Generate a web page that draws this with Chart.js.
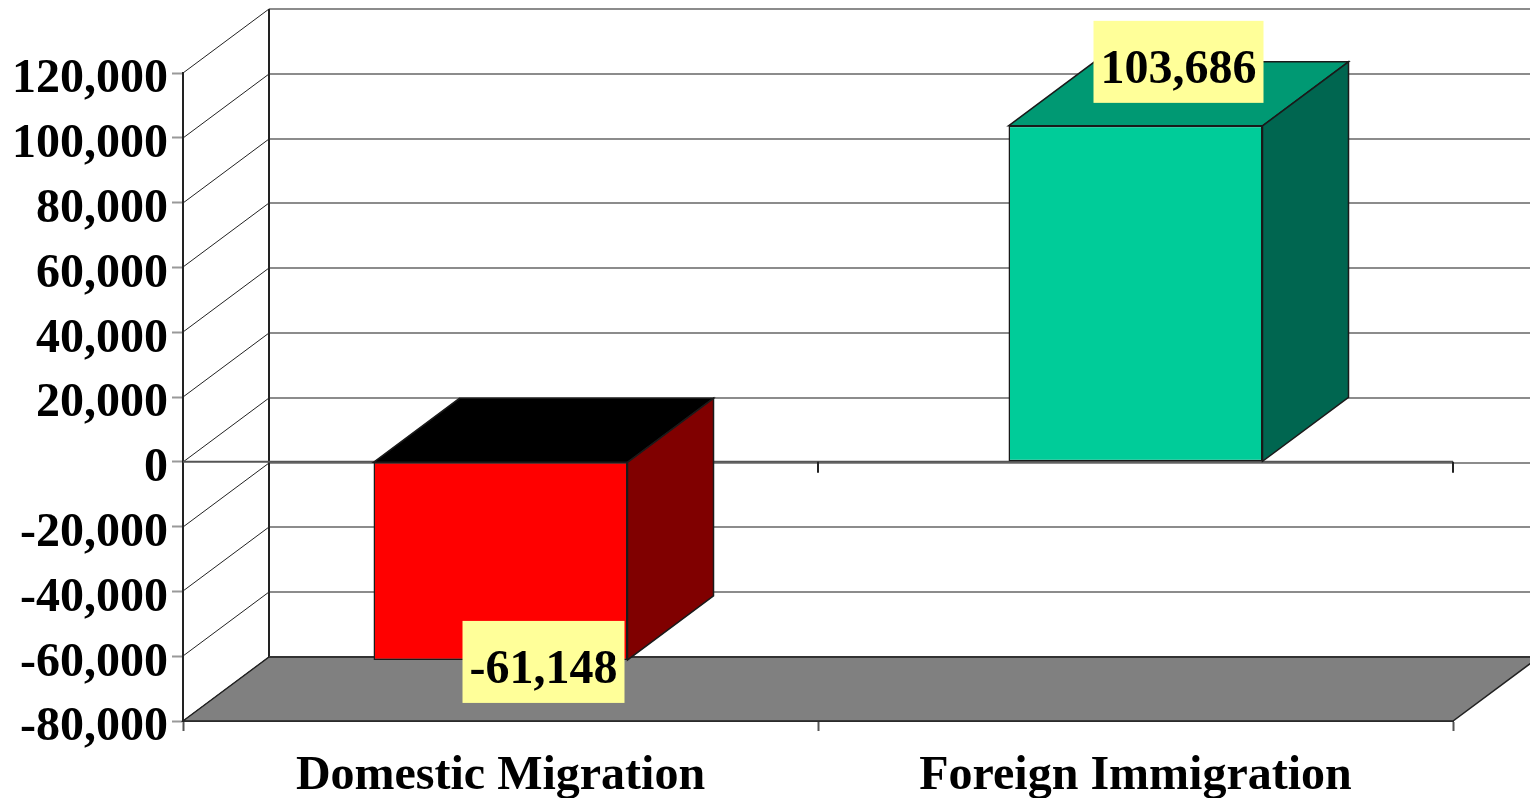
<!DOCTYPE html>
<html lang="en">
  <head>
    <meta charset="UTF-8" />
    <title>Domestic Migration and Foreign Immigration</title>
    <script src="https://cdn.jsdelivr.net/npm/chart.js"></script>
    <style>
      html, body { margin: 0; padding: 0; background: #ffffff; }
      canvas { display: block; }
    </style>
  </head>
  <body>
    <canvas id="migrationChart" width="1530" height="798"></canvas>
    <script>
      const categories = ["Domestic Migration", "Foreign Immigration"];
      const netMigration = [-61148, 103686];
      const yTicks = [120000, 100000, 80000, 60000, 40000, 20000, 0, -20000, -40000, -60000, -80000];

      const frontColors = ["#ff0000", "#00cc99"];
      const topColors = ["#000000", "#009973"];
      const sideColors = ["#800000", "#006650"];

      const FONT = "bold 48px 'Liberation Serif'";
      const DEPTH_X = 86;
      const DEPTH_Y = 64;
      const fmt = v => v.toLocaleString("en-US");

      function line(ctx, x1, y1, x2, y2, color, width) {
        ctx.strokeStyle = color;
        ctx.lineWidth = width;
        ctx.beginPath();
        ctx.moveTo(x1, y1);
        ctx.lineTo(x2, y2);
        ctx.stroke();
      }

      function poly(ctx, pts, fill, stroke) {
        ctx.beginPath();
        pts.forEach((p, i) => (i ? ctx.lineTo(p[0], p[1]) : ctx.moveTo(p[0], p[1])));
        ctx.closePath();
        ctx.fillStyle = fill;
        ctx.fill();
        if (stroke) {
          ctx.strokeStyle = stroke;
          ctx.lineWidth = 1.5;
          ctx.stroke();
        }
      }

      // back wall, floor and the depth faces of the bars
      const depthPlugin = {
        id: "depth",
        beforeDatasetsDraw(chart) {
          const {ctx, scales: {x, y}} = chart;
          const right = chart.width + DEPTH_X;
          const zero = y.getPixelForValue(0);
          ctx.save();

          yTicks.forEach(v => {
            const py = Math.round(y.getPixelForValue(v));
            line(ctx, x.left + DEPTH_X, py - DEPTH_Y, right, py - DEPTH_Y, "#8c8c8c", 2);
            line(ctx, x.left, py, x.left + DEPTH_X, py - DEPTH_Y, "#222222", 1);
          });
          line(ctx, x.left + DEPTH_X, y.top - DEPTH_Y, x.left + DEPTH_X, y.bottom - DEPTH_Y, "#222222", 2);

          poly(ctx, [
            [x.left, y.bottom],
            [x.left + DEPTH_X, y.bottom - DEPTH_Y],
            [x.right + DEPTH_X, y.bottom - DEPTH_Y],
            [x.right, y.bottom],
          ], "#808080", "#222222");
          line(ctx, x.left + DEPTH_X, y.bottom - DEPTH_Y, right, y.bottom - DEPTH_Y, "#333333", 2);

          // zero plane with its category ticks
          line(ctx, x.left, zero, x.right, zero, "#555555", 2);
          categories.forEach((c, i) => {
            const px = x.left + ((i + 1) * x.width) / categories.length;
            line(ctx, px, zero, px, zero + 11, "#222222", 2);
          });

          chart.getDatasetMeta(0).data.forEach((bar, i) => {
            const half = bar.width / 2;
            const l = bar.x - half;
            const r = bar.x + half;
            const t = Math.min(bar.y, bar.base);
            const b = Math.max(bar.y, bar.base);
            poly(ctx, [[l, t], [l + DEPTH_X, t - DEPTH_Y], [r + DEPTH_X, t - DEPTH_Y], [r, t]], topColors[i], "#1a1a1a");
            poly(ctx, [[r, t], [r + DEPTH_X, t - DEPTH_Y], [r + DEPTH_X, b - DEPTH_Y], [r, b]], sideColors[i], "#1a1a1a");
          });
          ctx.restore();
        },
        afterDatasetsDraw(chart) {
          const {ctx} = chart;
          ctx.save();
          ctx.font = FONT;
          ctx.textAlign = "center";
          ctx.textBaseline = "middle";
          chart.getDatasetMeta(0).data.forEach((bar, i) => {
            const value = netMigration[i];
            const text = fmt(value);
            const w = ctx.measureText(text).width + 14;
            const h = 82;
            const cx = bar.x + 43;
            const cy = value < 0 ? bar.y + 2 : bar.y - 64;
            ctx.fillStyle = "#ffff99";
            ctx.fillRect(cx - w / 2, cy - h / 2, w, h);
            ctx.fillStyle = "#000000";
            ctx.fillText(text, cx, cy + 9);
          });
          ctx.restore();
        },
      };

      new Chart(document.getElementById("migrationChart"), {
        type: "bar",
        data: {
          labels: categories,
          datasets: [
            {
              data: netMigration,
              backgroundColor: frontColors,
              borderColor: "#1a1a1a",
              borderWidth: 1.5,
              borderSkipped: false,
              categoryPercentage: 0.4,
              barPercentage: 1,
            },
          ],
        },
        plugins: [depthPlugin],
        options: {
          responsive: false,
          animation: false,
          layout: {padding: {top: 73, right: 77, left: 0, bottom: 0}},
          plugins: {legend: {display: false}, tooltip: {enabled: false}},
          scales: {
            x: {
              afterFit: scale => { scale.height = 77; },
              grid: {drawOnChartArea: false, tickLength: 10, tickColor: "#555555", tickWidth: 2},
              border: {color: "#444444", width: 2},
              ticks: {
                color: "#000000",
                padding: 17,
                maxRotation: 0,
                font: {family: "'Liberation Serif'", size: 48, weight: "bold"},
              },
            },
            y: {
              min: -80000,
              max: 120000,
              afterFit: scale => { scale.width = 183; },
              afterBuildTicks: scale => { scale.ticks = yTicks.map(value => ({value})); },
              grid: {drawOnChartArea: false, tickLength: 11, tickColor: "#999999", tickWidth: 2},
              border: {color: "#222222", width: 2},
              ticks: {
                color: "#000000",
                padding: 4,
                labelOffset: 7,
                callback: v => fmt(v),
                font: {family: "'Liberation Serif'", size: 48, weight: "bold"},
              },
            },
          },
        },
      });
    </script>
  </body>
</html>
